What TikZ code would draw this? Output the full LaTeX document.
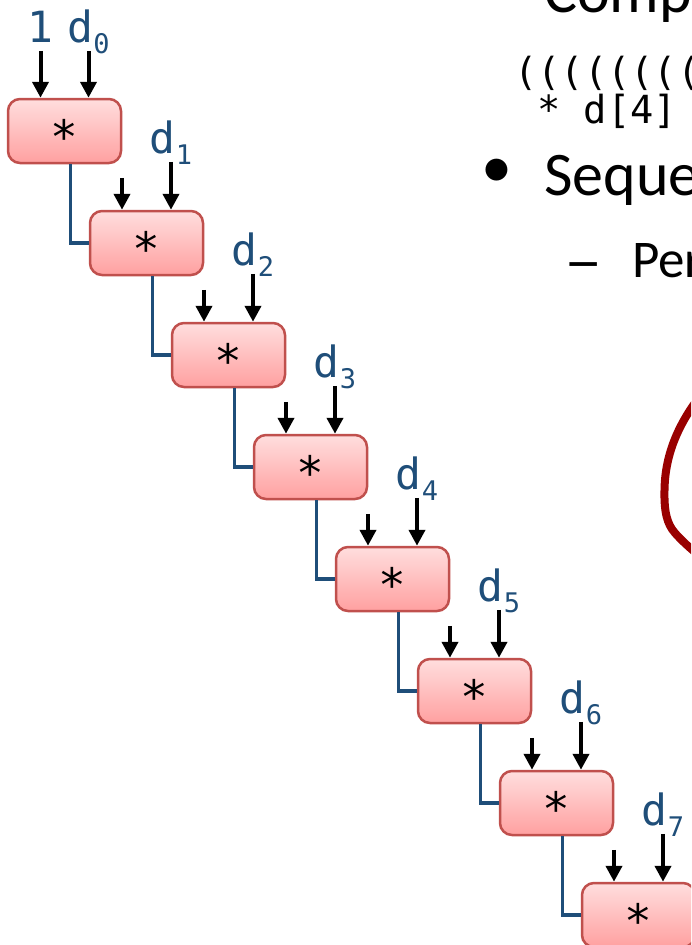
\documentclass[tikz,border=0pt]{standalone}
\usepackage{fontspec}
\usepackage{tikz}
\usetikzlibrary{arrows.meta}

\newfontfamily\codefont{DejaVu Sans Mono}
\newfontfamily\slidefont{Carlito}

\definecolor{cellTop}{HTML}{FFDEDE}
\definecolor{cellBot}{HTML}{FFA0A0}
\definecolor{cellEdge}{HTML}{C0504D}
\definecolor{wireBlue}{HTML}{1F4E79}
\definecolor{ringRed}{HTML}{990000}

% d with a lowered index
\newcommand{\dsub}[1]{d\raisebox{-11pt}{\fontsize{27}{27}\selectfont #1}}

\begin{document}
\begin{tikzpicture}[
    x=1pt, y=-1pt,
    mult/.style={draw=cellEdge, line width=2.5pt, rounded corners=12pt,
        top color=cellTop, bottom color=cellBot,
        minimum width=113pt, minimum height=64pt, inner sep=0pt,
        text height=44pt, text depth=0pt,
        font=\codefont\fontsize{46}{46}\selectfont},
    feed/.style={-{Triangle[width=16pt,length=16pt]}, line width=4pt, black},
    wire/.style={draw=wireBlue, line width=3.8pt},
    var/.style={anchor=base, inner sep=0pt, text=wireBlue,
        font=\codefont\fontsize{43}{43}\selectfont},
    slide/.style={anchor=base west, inner sep=0pt,
        font=\slidefont\fontsize{62}{62}\selectfont},
    subslide/.style={anchor=base west, inner sep=0pt,
        font=\slidefont\fontsize{53}{53}\selectfont},
    code/.style={anchor=base west, inner sep=0pt,
        font=\codefont\fontsize{38.7}{40}\selectfont},
    ring/.style={draw=ringRed, line width=8pt}
]
\useasboundingbox (0,0) rectangle (691,945);
\clip (0,0) rectangle (691,945);

% First product: 1 * d0
\node[mult] (m0) at (64.5,131) {*};
\coordinate (one) at ([xshift=-24pt,yshift=47pt]m0.north);
\coordinate (in0) at ([xshift=24pt,yshift=47pt]m0.north);
\node[var] (v1) at ([yshift=8pt]one) {1};
\node[var] (d0) at ([yshift=8pt]in0) {\dsub{0}};
\draw[feed] (one) -- (one |- m0.north);
\draw[feed] (in0) -- (in0 |- m0.north);

% * d1
\node[mult] (m1) at (146.5,243) {*};
\coordinate (acc1) at ([xshift=-24.5pt,yshift=32pt]m1.north);
\coordinate (in1) at ([xshift=24.5pt,yshift=48pt]m1.north);
\node[var] (d1) at ([yshift=8pt]in1) {\dsub{1}};
\draw[feed] (acc1) -- (acc1 |- m1.north);
\draw[feed] (in1) -- (in1 |- m1.north);
\draw[wire] ([xshift=6pt]m0.south) |- (m1.west);

% * d2
\node[mult] (m2) at (228.5,355) {*};
\coordinate (acc2) at ([xshift=-24.5pt,yshift=32pt]m2.north);
\coordinate (in2) at ([xshift=24.5pt,yshift=48pt]m2.north);
\node[var] (d2) at ([yshift=8pt]in2) {\dsub{2}};
\draw[feed] (acc2) -- (acc2 |- m2.north);
\draw[feed] (in2) -- (in2 |- m2.north);
\draw[wire] ([xshift=6pt]m1.south) |- (m2.west);

% * d3
\node[mult] (m3) at (310.5,467) {*};
\coordinate (acc3) at ([xshift=-24.5pt,yshift=32pt]m3.north);
\coordinate (in3) at ([xshift=24.5pt,yshift=48pt]m3.north);
\node[var] (d3) at ([yshift=8pt]in3) {\dsub{3}};
\draw[feed] (acc3) -- (acc3 |- m3.north);
\draw[feed] (in3) -- (in3 |- m3.north);
\draw[wire] ([xshift=6pt]m2.south) |- (m3.west);

% * d4
\node[mult] (m4) at (392.5,579) {*};
\coordinate (acc4) at ([xshift=-24.5pt,yshift=32pt]m4.north);
\coordinate (in4) at ([xshift=24.5pt,yshift=48pt]m4.north);
\node[var] (d4) at ([yshift=8pt]in4) {\dsub{4}};
\draw[feed] (acc4) -- (acc4 |- m4.north);
\draw[feed] (in4) -- (in4 |- m4.north);
\draw[wire] ([xshift=6pt]m3.south) |- (m4.west);

% * d5
\node[mult] (m5) at (474.5,691) {*};
\coordinate (acc5) at ([xshift=-24.5pt,yshift=32pt]m5.north);
\coordinate (in5) at ([xshift=24.5pt,yshift=48pt]m5.north);
\node[var] (d5) at ([yshift=8pt]in5) {\dsub{5}};
\draw[feed] (acc5) -- (acc5 |- m5.north);
\draw[feed] (in5) -- (in5 |- m5.north);
\draw[wire] ([xshift=6pt]m4.south) |- (m5.west);

% * d6
\node[mult] (m6) at (556.5,803) {*};
\coordinate (acc6) at ([xshift=-24.5pt,yshift=32pt]m6.north);
\coordinate (in6) at ([xshift=24.5pt,yshift=48pt]m6.north);
\node[var] (d6) at ([yshift=8pt]in6) {\dsub{6}};
\draw[feed] (acc6) -- (acc6 |- m6.north);
\draw[feed] (in6) -- (in6 |- m6.north);
\draw[wire] ([xshift=6pt]m5.south) |- (m6.west);

% * d7
\node[mult] (m7) at (638.5,915) {*};
\coordinate (acc7) at ([xshift=-24.5pt,yshift=32pt]m7.north);
\coordinate (in7) at ([xshift=24.5pt,yshift=48pt]m7.north);
\node[var] (d7) at ([yshift=8pt]in7) {\dsub{7}};
\draw[feed] (acc7) -- (acc7 |- m7.north);
\draw[feed] (in7) -- (in7 |- m7.north);
\draw[wire] ([xshift=6pt]m6.south) |- (m7.west);

% slide text on the right
\node[slide] (head) at (544,12) {Comp};
\node[code] (expr1) at (514,85) {((((((((};
\node[code] (expr2) at (537,123) {* d[4]};
\node[slide, anchor=center] (dot) at (497,173) {•};
\node[slide] (seq) at (544,195) {Seque};
\node[subslide, anchor=base] (dash) at (583.5,281)
    {\scalebox{1.45}[1.15]{–}};
\node[subslide] (perf) at (632,277) {Per};

% red loop
\draw[ring] (697,400) .. controls (678,426) and (665,455) .. (664.5,490)
    .. controls (664,512) and (667,524) .. (675,533)
    .. controls (682,541) and (689,547) .. (697,554);
\end{tikzpicture}
\end{document}
